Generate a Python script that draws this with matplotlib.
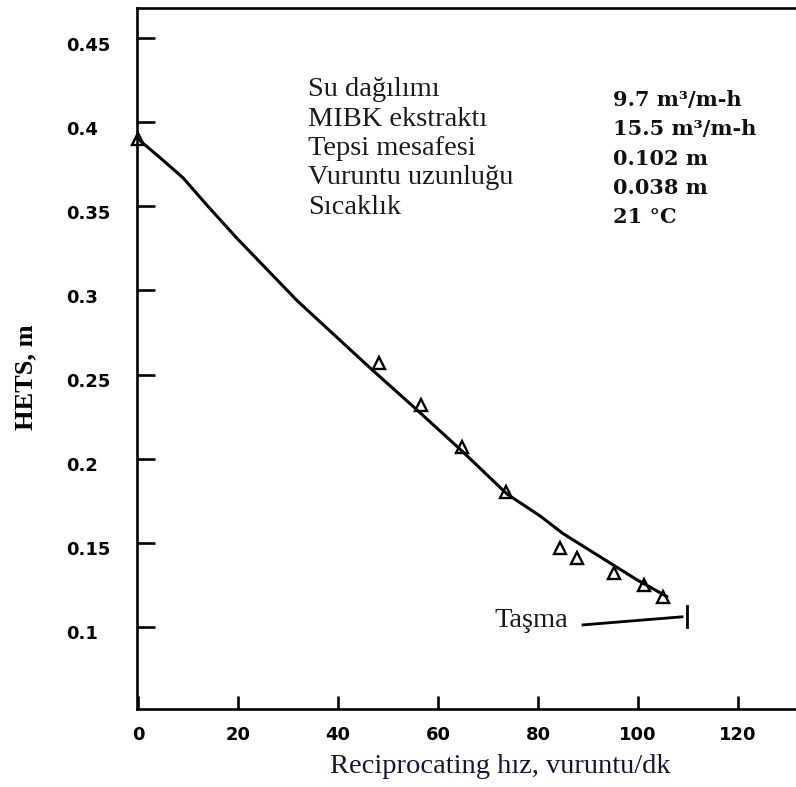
import matplotlib
matplotlib.use("Agg")
import matplotlib.pyplot as plt
import matplotlib.transforms as mtransforms

# measured HETS points (open triangles)
speed = [0, 48.2, 56.6, 64.8, 73.6, 84.4, 87.8, 95.2, 101.2, 105.0]
hets = [0.390, 0.257, 0.232, 0.207, 0.180, 0.147, 0.141, 0.132, 0.125, 0.118]

# hand drawn fit curve
curve_x = [0, 4, 9, 14, 19.8, 31.8, 46.4, 55.8, 65, 73.8, 80.4, 85, 94.4, 99.8, 105.8]
curve_y = [0.390, 0.380, 0.367, 0.350, 0.331, 0.294, 0.254, 0.229, 0.204, 0.179, 0.166, 0.1555, 0.138, 0.128, 0.118]

# flooding mark
flood_x = [89, 108.8]
flood_y = [0.1012, 0.106]
flood_bar_x = 109.8
flood_bar_y = (0.100, 0.1125)

cond_names = ["Su dağılımı", "MIBK ekstraktı", "Tepsi mesafesi", "Vuruntu uzunluğu", "Sıcaklık"]
cond_values = ["9.7 m³/m-h", "15.5 m³/m-h", "0.102 m", "0.038 m", "21 °C"]

xticks = [0, 20, 40, 60, 80, 100, 120]
yticks = [0.1, 0.15, 0.2, 0.25, 0.3, 0.35, 0.4, 0.45]
ytick_labels = ["0.1", "0.15", "0.2", "0.25", "0.3", "0.35", "0.4", "0.45"]

fig = plt.figure(figsize=(7.96, 7.87), dpi=100)
ax = fig.add_axes([0.1721, 0.0991, 0.8279, 0.8907])

ax.plot(curve_x, curve_y, color="black", lw=2.2, solid_capstyle="round", solid_joinstyle="round")
ax.plot(speed, hets, linestyle="none", marker="^", ms=9, mfc="none", mec="black", mew=1.7,
        clip_on=False)

ax.plot(flood_x, flood_y, color="black", lw=2.0)
ax.plot([flood_bar_x, flood_bar_x], flood_bar_y, color="black", lw=2.0)
ax.text(71.2, 0.1, "Taşma", family="Liberation Serif", fontsize=20.5, color="#1a1a1a",
        va="baseline", ha="left")

for i, name in enumerate(cond_names):
    ax.text(34, 0.4155 - i * 0.0175, name, family="Liberation Serif", fontsize=20.5,
            color="#1a1a1a", va="baseline", ha="left")
for i, val in enumerate(cond_values):
    ax.text(95, 0.4096 - i * 0.01738, val, family="DejaVu Serif", fontweight="bold",
            fontsize=15, color="#111111", va="baseline", ha="left")

ax.set_xlim(-0.2, 131.6)
ax.set_ylim(0.0512, 0.4679)

ax.spines["right"].set_visible(False)
for s in ["left", "top", "bottom"]:
    ax.spines[s].set_linewidth(1.9)

ax.set_xticks(xticks)
ax.set_xticklabels([str(t) for t in xticks])
ax.set_yticks(yticks)
ax.set_yticklabels(ytick_labels)
ax.tick_params(axis="y", direction="in", length=13, width=1.9, pad=51)
ax.tick_params(axis="x", direction="in", length=9.5, width=1.9, pad=12)
for lab in ax.get_yticklabels() + ax.get_xticklabels():
    lab.set_fontfamily("DejaVu Sans")
    lab.set_fontweight("bold")
    lab.set_fontsize(13)
for lab in ax.get_yticklabels():
    lab.set_horizontalalignment("left")
    lab.set_transform(lab.get_transform() +
                      mtransforms.ScaledTranslation(0, -4 / 72, fig.dpi_scale_trans))

fig.text(0.629, 0.0178, "Reciprocating hız, vuruntu/dk", family="Liberation Serif",
         fontsize=20.5, color="#141433", ha="center", va="baseline")
fig.text(0.033, 0.521, "HETS, m", family="Liberation Serif", fontweight="bold",
         fontsize=19, color="black", ha="center", va="center", rotation=90)

fig.savefig("out.png", dpi=100)
